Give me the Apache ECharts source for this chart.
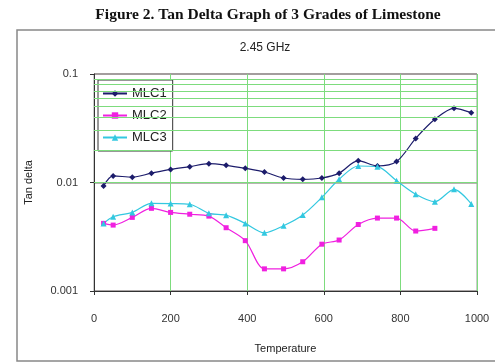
<!DOCTYPE html>
<html>
<head>
<meta charset="utf-8">
<script src="https://cdn.jsdelivr.net/npm/echarts@6/dist/echarts.min.js"></script>
<style>
  html, body { margin: 0; padding: 0; background: #fff; }
  #chart { width: 495px; height: 363px; }
</style>
</head>
<body>
<div id="chart"></div>
<script>
// temperatures
var mlc1Temp = [25, 50, 100, 150, 200, 250, 300, 345, 395, 445, 495, 545, 595, 640, 690, 740, 790, 840, 890, 940, 985];
var mlc1Val  = [0.0093, 0.0115, 0.0112, 0.0122, 0.0132, 0.014, 0.0149, 0.0144, 0.0135, 0.0125, 0.011, 0.0107, 0.011, 0.0122, 0.0159, 0.0142, 0.0156, 0.0255, 0.0382, 0.0483, 0.044];

var mlc2Temp = [25, 50, 100, 150, 200, 250, 300, 345, 395, 445, 495, 545, 595, 640, 690, 740, 790, 840, 890];
var mlc2Val  = [0.0042, 0.00405, 0.00477, 0.00578, 0.0053, 0.0051, 0.0049, 0.00383, 0.00291, 0.0016, 0.0016, 0.00186, 0.0027, 0.00295, 0.0041, 0.0047, 0.0047, 0.00357, 0.00378];

var mlc3Temp = [25, 50, 100, 150, 200, 250, 300, 345, 395, 445, 495, 545, 595, 640, 690, 740, 790, 840, 890, 940, 985];
var mlc3Val  = [0.0042, 0.00484, 0.0053, 0.00643, 0.0064, 0.0063, 0.0052, 0.005, 0.0042, 0.00344, 0.004, 0.00502, 0.0073, 0.0107, 0.0142, 0.014, 0.0104, 0.0078, 0.00665, 0.00865, 0.00634];

// minor grid lines of the log axis
var minorGrid = [0.002, 0.003, 0.004, 0.005, 0.006, 0.007, 0.008, 0.009,
                 0.02, 0.03, 0.04, 0.05, 0.06, 0.07, 0.08, 0.09];

function pairs(xs, ys) {
  return xs.map(function (x, i) { return [x, ys[i]]; });
}

var chart = echarts.init(document.getElementById('chart'));
var option = {
  animation: false,
  backgroundColor: '#fff',
  textStyle: { fontFamily: 'Liberation Sans, Arial, sans-serif' },
  graphic: [
    {
      type: 'rect',
      shape: { x: 17, y: 30, width: 490, height: 331 },
      style: { fill: 'none', stroke: '#888', lineWidth: 1.5 }
    },
    {
      type: 'text',
      x: 268,
      y: 15,
      style: {
        text: 'Figure 2. Tan Delta Graph of 3 Grades of Limestone',
        font: 'bold 15.5px "Liberation Serif", "Times New Roman", serif',
        fill: '#111',
        align: 'center',
        verticalAlign: 'middle'
      }
    },
    {
      type: 'text',
      x: 265,
      y: 48,
      style: {
        text: '2.45 GHz',
        font: '12px "Liberation Sans", Arial, sans-serif',
        fill: '#222',
        align: 'center',
        verticalAlign: 'middle'
      }
    }
  ],
  grid: {
    left: 94,
    right: 18,
    top: 74,
    bottom: 72,
    show: true,
    borderColor: '#999',
    borderWidth: 1
  },
  legend: {
    data: ['MLC1', 'MLC2', 'MLC3'],
    orient: 'vertical',
    left: 98,
    top: 80,
    itemGap: 9,
    itemWidth: 24,
    itemHeight: 8,
    padding: [7, 6, 7, 4],
    borderColor: '#333',
    borderWidth: 1,
    backgroundColor: '#fff',
    textStyle: { fontSize: 13, color: '#222' }
  },
  xAxis: {
    type: 'value',
    min: 0,
    max: 1000,
    interval: 200,
    name: 'Temperature',
    nameLocation: 'middle',
    nameGap: 52,
    nameTextStyle: { fontSize: 11, color: '#222' },
    axisLine: { lineStyle: { color: '#333' } },
    axisTick: { show: true, length: 4, lineStyle: { color: '#333' } },
    axisLabel: {
      margin: 22,
      fontSize: 11,
      color: '#333',
      formatter: function (v) { return String(v); }
    },
    splitLine: { show: true, lineStyle: { color: '#7ddc7d', width: 1 } }
  },
  yAxis: {
    type: 'log',
    logBase: 10,
    min: 0.001,
    max: 0.1,
    name: 'Tan delta',
    nameLocation: 'middle',
    nameGap: 60,
    nameTextStyle: { fontSize: 11, color: '#222' },
    axisLine: { show: true, lineStyle: { color: '#333' } },
    axisTick: { show: true, length: 4, lineStyle: { color: '#333' } },
    axisLabel: {
      margin: 16,
      fontSize: 11,
      color: '#333',
      formatter: function (v) { return String(+v.toPrecision(3)); }
    },
    splitLine: { show: true, lineStyle: { color: '#a09a9a', width: 1.5 } }
  },
  series: [
    {
      name: 'grid',
      type: 'line',
      data: [],
      z: 1,
      silent: true,
      markLine: {
        silent: true,
        symbol: 'none',
        label: { show: false },
        lineStyle: { color: '#7ddc7d', type: 'solid', width: 1 },
        data: minorGrid.map(function (v) { return { yAxis: v }; })
      }
    },
    {
      name: 'MLC1',
      type: 'line',
      z: 3,
      smooth: 0.3,
      symbol: 'diamond',
      symbolSize: 6,
      itemStyle: { color: '#1c1c6b' },
      lineStyle: { color: '#1c1c6b', width: 1.2 },
      data: pairs(mlc1Temp, mlc1Val)
    },
    {
      name: 'MLC2',
      type: 'line',
      z: 3,
      smooth: 0.3,
      symbol: 'rect',
      symbolSize: 5,
      itemStyle: { color: '#f020e0' },
      lineStyle: { color: '#f020e0', width: 1.2 },
      data: pairs(mlc2Temp, mlc2Val)
    },
    {
      name: 'MLC3',
      type: 'line',
      z: 3,
      smooth: 0.3,
      symbol: 'triangle',
      symbolSize: 6,
      itemStyle: { color: '#33c8e0' },
      lineStyle: { color: '#33c8e0', width: 1.2 },
      data: pairs(mlc3Temp, mlc3Val)
    }
  ]
};
chart.setOption(option);
</script>
</body>
</html>
